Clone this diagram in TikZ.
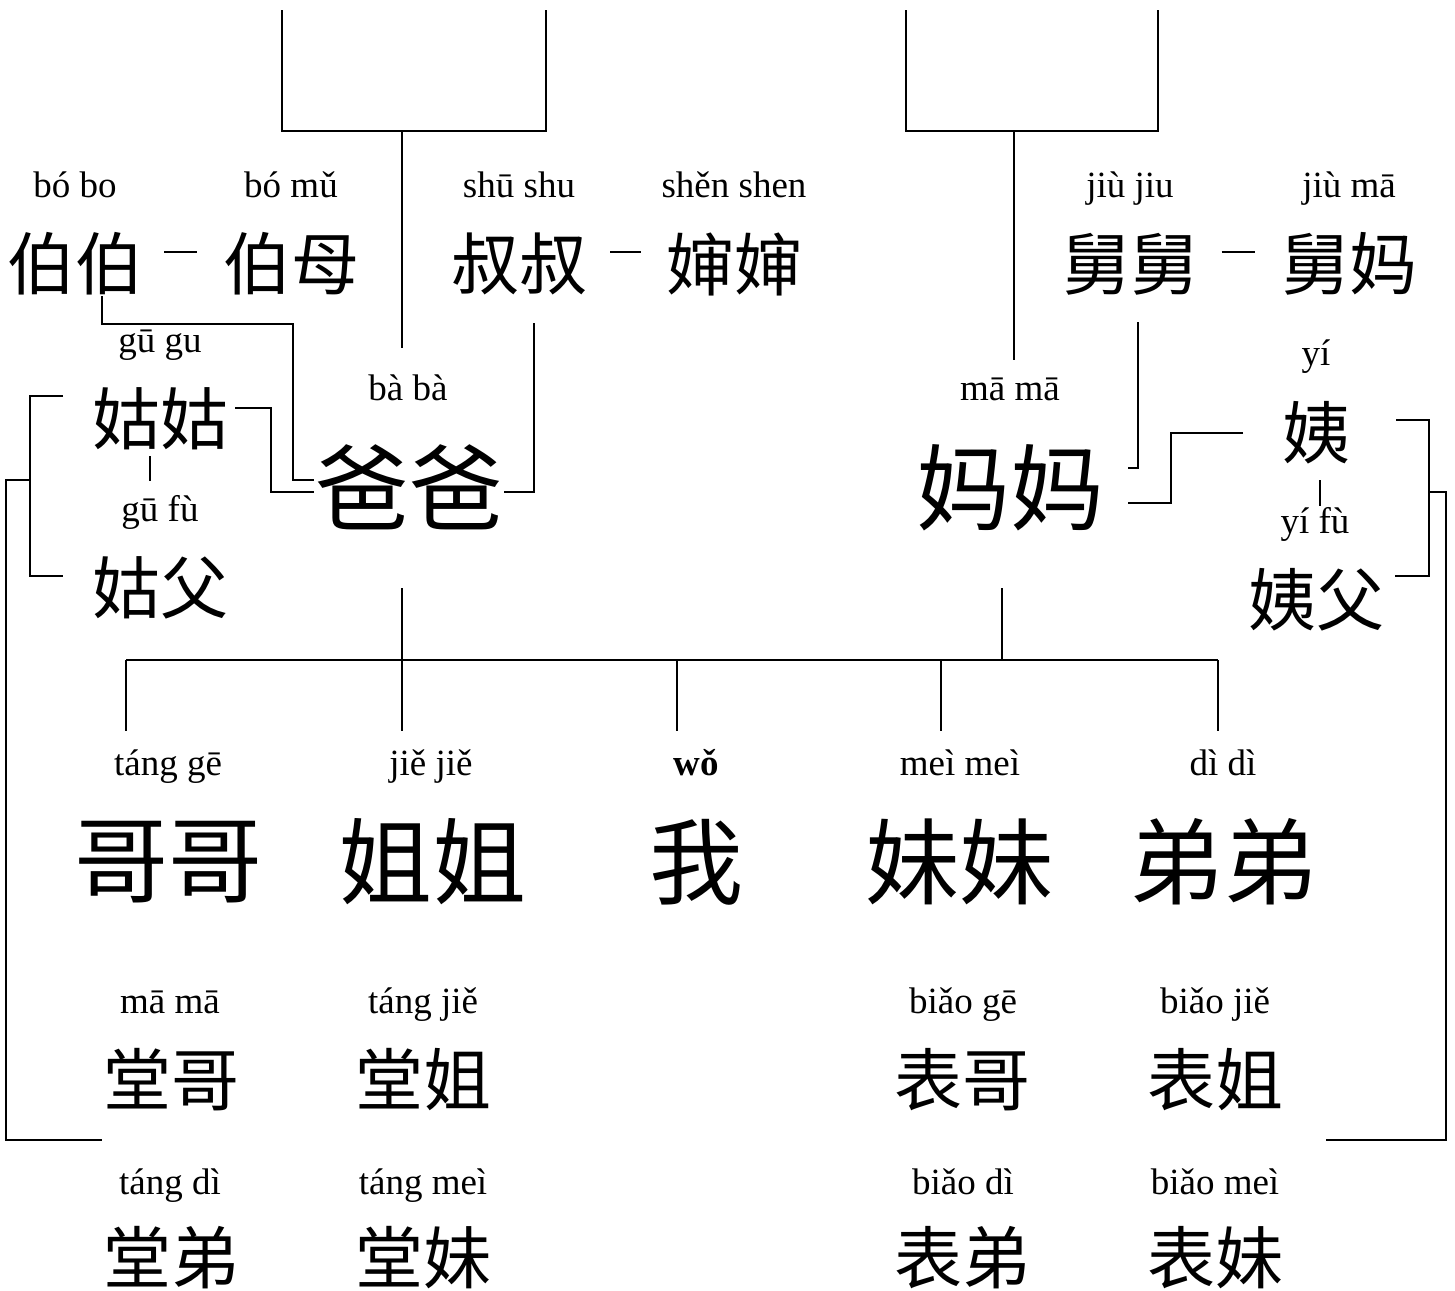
\documentclass[tikz,border=0pt]{standalone}
\usepackage{fontspec}
\setmainfont{Liberation Serif}
\newfontfamily\cjk{Noto Sans CJK SC}
\usetikzlibrary{calc}
\tikzset{
  pinyin/.style={anchor=base, inner sep=0pt, font=\fontsize{18.5}{20}\selectfont},
  hanzi/.style={inner sep=0pt, font=\cjk\fontsize{34}{36}\selectfont},
  bighanzi/.style={inner sep=0pt, font=\cjk\fontsize{47}{50}\selectfont},
}

\begin{document}
\begin{tikzpicture}[x=0.5pt, y=-0.5pt, line width=1pt]
\useasboundingbox (0,0) rectangle (1455,1290);
% uncles and aunts
\node[hanzi] (bobo) at (75,264) {伯伯};
\node[pinyin] (bobo-py) at (75,197) {bó bo};
\node[hanzi] (bomu) at (291,264) {伯母};
\node[pinyin] (bomu-py) at (291,197) {bó mǔ};
\node[hanzi] (shushu) at (519,264) {叔叔};
\node[pinyin] (shushu-py) at (519,197) {shū shu};
\node[hanzi] (shenshen) at (734,264) {婶婶};
\node[pinyin] (shenshen-py) at (734,197) {shěn shen};
\node[hanzi] (jiujiu) at (1130,264) {舅舅};
\node[pinyin] (jiujiu-py) at (1130,197) {jiù jiu};
\node[hanzi] (jiuma) at (1349,264) {舅妈};
\node[pinyin] (jiuma-py) at (1349,197) {jiù mā};
\node[hanzi] (gugu) at (160,419) {姑姑};
\node[pinyin] (gugu-py) at (160,352) {gū gu};
\node[hanzi] (gufu) at (160,588) {姑父};
\node[pinyin] (gufu-py) at (160,521) {gū fù};
\node[hanzi] (yi) at (1316,433) {姨};
\node[pinyin] (yi-py) at (1316,365) {yí};
\node[hanzi] (yifu) at (1316,600) {姨父};
\node[pinyin] (yifu-py) at (1315,533) {yí fù};
% parents
\node[bighanzi] (baba) at (409,487) {爸爸};
\node[pinyin] (baba-py) at (408,400) {bà bà};
\node[bighanzi] (mama) at (1010,488) {妈妈};
\node[pinyin] (mama-py) at (1010,400) {mā mā};
% my generation
\node[bighanzi] (gege) at (168,862) {哥哥};
\node[pinyin] (gege-py) at (168,775) {táng gē};
\node[bighanzi] (jiejie) at (432,862) {姐姐};
\node[pinyin] (jiejie-py) at (431,775) {jiě jiě};
\node[bighanzi] (wo) at (696,862) {我};
\node[pinyin, font=\bfseries\fontsize{18.5}{20}\selectfont] (wo-py) at (696,775) {wǒ};
\node[bighanzi] (meimei) at (959,862) {妹妹};
\node[pinyin] (meimei-py) at (960,775) {meì meì};
\node[bighanzi] (didi) at (1223,862) {弟弟};
\node[pinyin] (didi-py) at (1223,775) {dì dì};
% cousins
\node[hanzi] (tangge) at (171,1080) {堂哥};
\node[pinyin] (tangge-py) at (170,1013) {mā mā};
\node[hanzi] (tangjie) at (423,1080) {堂姐};
\node[pinyin] (tangjie-py) at (423,1013) {táng jiě};
\node[hanzi] (biaoge) at (962,1080) {表哥};
\node[pinyin] (biaoge-py) at (963,1013) {biǎo gē};
\node[hanzi] (biaojie) at (1215,1080) {表姐};
\node[pinyin] (biaojie-py) at (1215,1013) {biǎo jiě};
\node[hanzi] (tangdi) at (171,1258) {堂弟};
\node[pinyin] (tangdi-py) at (170,1194) {táng dì};
\node[hanzi] (tangmei) at (423,1258) {堂妹};
\node[pinyin] (tangmei-py) at (423,1194) {táng meì};
\node[hanzi] (biaodi) at (962,1258) {表弟};
\node[pinyin] (biaodi-py) at (963,1194) {biǎo dì};
\node[hanzi] (biaomei) at (1215,1258) {表妹};
\node[pinyin] (biaomei-py) at (1215,1194) {biǎo meì};

% grandparents
\coordinate (dad-gpa) at (282,10);
\coordinate (dad-gma) at (546,10);
\coordinate (dad-root) at (402,131);
\coordinate (dad-stem) at (402,348);
\draw (dad-gpa) |- (546,131) -- (dad-gma);
\draw (dad-root) -- (dad-stem);
\coordinate (mom-gpa) at (906,10);
\coordinate (mom-gma) at (1158,10);
\coordinate (mom-root) at (1014,131);
\coordinate (mom-stem) at (1014,360);
\draw (mom-gpa) |- (1158,131) -- (mom-gma);
\draw (mom-root) -- (mom-stem);

% couples
\draw ($(bobo.east)!0.26!(bomu.west)+(0,-12)$) -- ($(bobo.east)!0.68!(bomu.west)+(0,-12)$);
\draw ($(shushu.east)!0.29!(shenshen.west)+(0,-12)$) -- ($(shushu.east)!0.69!(shenshen.west)+(0,-12)$);
\draw ($(jiujiu.east)!0.28!(jiuma.west)+(0,-12)$) -- ($(jiujiu.east)!0.69!(jiuma.west)+(0,-12)$);
\draw ([shift={(-5pt,-2.5pt)}]gugu.south) -- ++(0,25);
\draw ([shift={(2pt,-7.5pt)}]yi.south) -- ++(0,26);

% siblings of dad
\draw ([xshift=13.5pt]bobo.south) |- (293,324) |- ([yshift=3.5pt]baba.west);
\draw ([shift={(3pt,5.5pt)}]gugu.east) -- ++(36,0) |- ([yshift=-2.5pt]baba.west);
\draw ([shift={(7.5pt,-13.5pt)}]shushu.south) |- ([yshift=-2.5pt]baba.east);
% siblings of mom
\draw ([shift={(4pt,-13pt)}]jiujiu.south) |- ([shift={(11.5pt,10pt)}]mama.east);
\draw ([xshift=-19pt]yi.west) -- ++(-72,0) |- ([shift={(11.5pt,-7.5pt)}]mama.east);

% cousins on both sides
\coordinate (tang-in) at (102,1140);
\coordinate (biao-in) at (1326,1140);
\draw ([shift={(-14pt,11.5pt)}]gugu.west) -| (30,500) |- ([shift={(-14pt,6pt)}]gufu.west);
\draw (30,480) -- (6,480) |- (tang-in);
\draw ([shift={(22.5pt,6.5pt)}]yi.east) -| (1429,500) |- ([shift={(5pt,12pt)}]yifu.east);
\draw (1429,492) -- (1446,492) |- (biao-in);

% children
\coordinate (dad-foot) at (402,588);
\coordinate (mom-foot) at (1002,588);
\coordinate (kids-l) at (126,660);
\coordinate (kids-r) at (1218,660);
\draw (kids-l) -- (kids-r);
\draw (dad-foot) -- (402,731);
\draw (mom-foot) -- (1002,660);
\draw (kids-l) -- (126,731);
\draw (677,660) -- (677,731);
\draw (941,660) -- (941,731);
\draw (kids-r) -- (1218,731);
\end{tikzpicture}
\end{document}
